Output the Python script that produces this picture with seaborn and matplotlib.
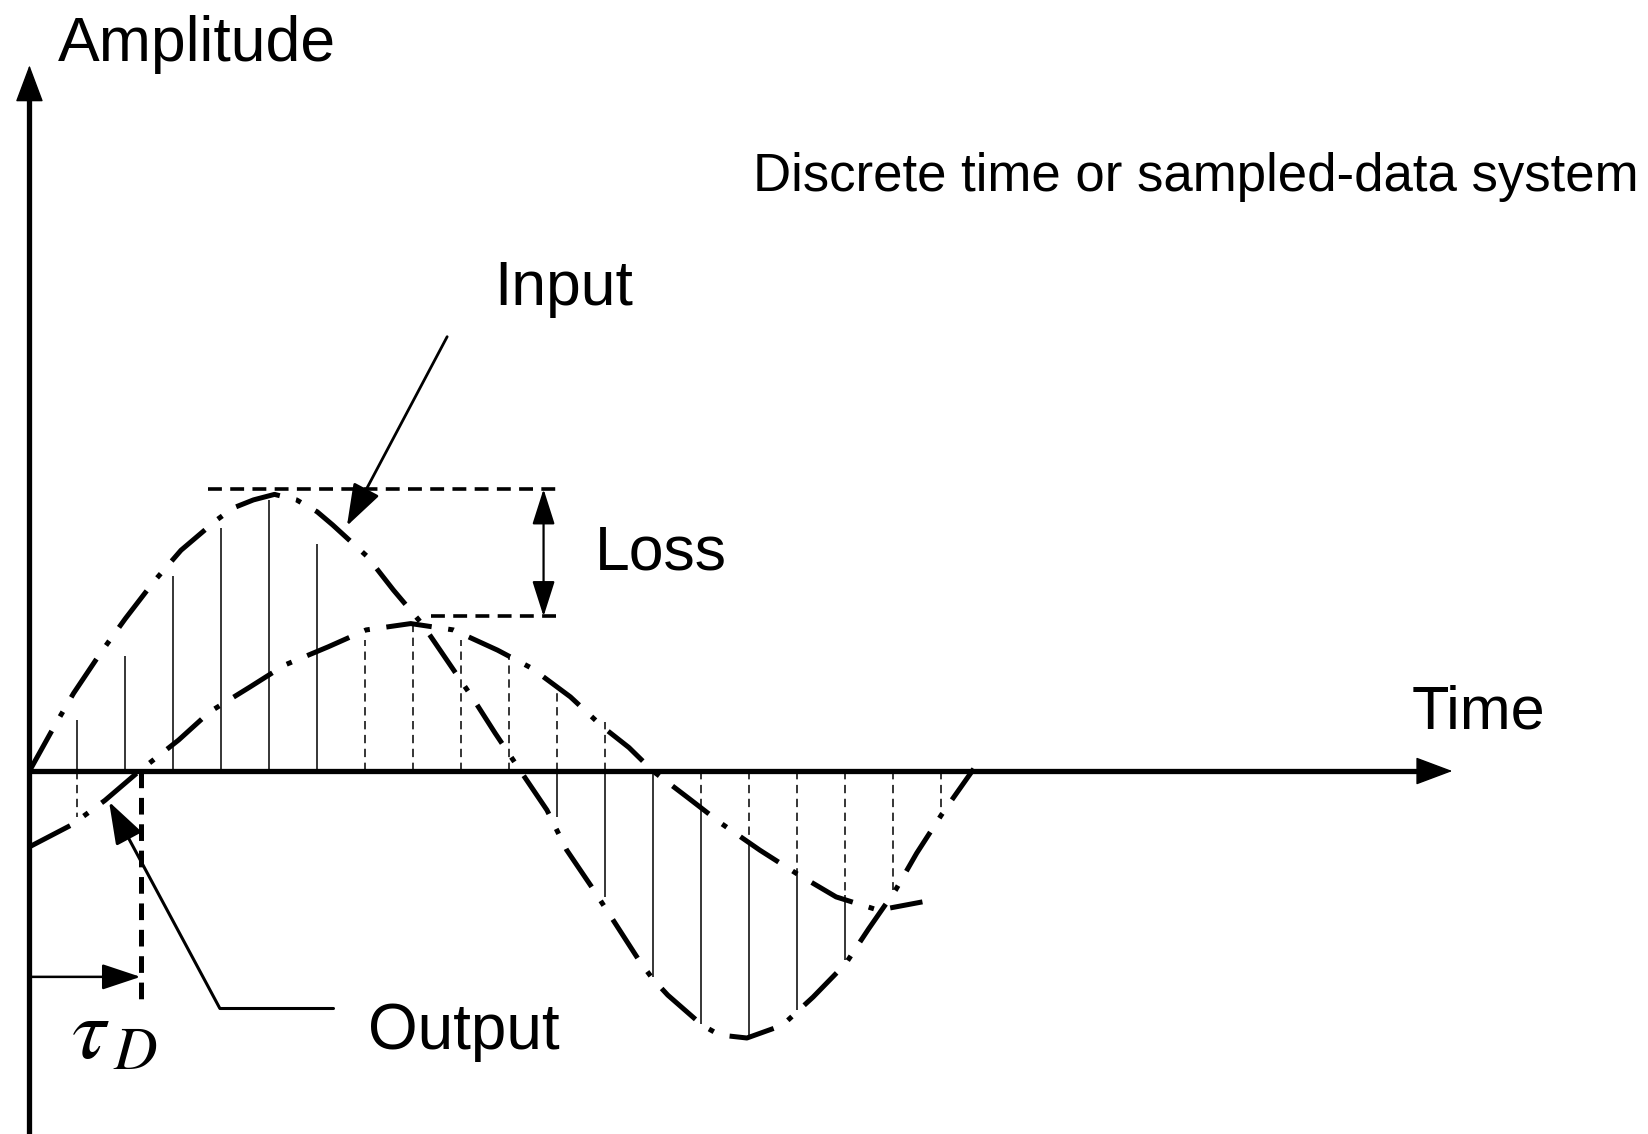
import numpy as np
import pandas as pd
import matplotlib
matplotlib.use("Agg")
import matplotlib.pyplot as plt
import seaborn as sns

# curves: time in sample periods, amplitude relative to input peak
input_t = [0, 0.50, 0.92, 1.48, 2.0, 2.59, 3.16, 3.90, 4.25, 4.67, 5.11, 5.57, 6.0, 6.32, 7.04,
           7.59, 8.20, 8.68, 9.25, 9.71, 10.24, 10.79, 11.2, 11.72, 12.19, 12.71, 12.99, 13.31,
           14.03, 14.39, 14.96, 15.70, 16.34, 17.02, 17.5, 18.06, 18.5, 19.04, 19.69]
input_a = [0, 0.156, 0.281, 0.426, 0.551, 0.684, 0.798, 0.907, 0.951, 0.980, 1.0, 0.980, 0.937,
           0.890, 0.776, 0.654, 0.529, 0.407, 0.262, 0.137, 0, -0.141, -0.285, -0.418, -0.544,
           -0.684, -0.750, -0.810, -0.919, -0.954, -0.965, -0.919, -0.817, -0.696, -0.570,
           -0.430, -0.297, -0.152, 0.008]

output_t = [0, 0.875, 1.20, 1.575, 2.27, 3.11, 3.76, 4.60, 5.32, 6.23, 7.02, 7.95, 8.84, 9.76,
            10.48, 11.28, 11.95, 12.5, 13.0, 13.75, 14.43, 15.23, 15.99, 16.82, 17.70, 18.62]
output_a = [-0.274, -0.195, -0.154, -0.106, -0.003, 0.112, 0.214, 0.304, 0.383, 0.449, 0.510,
            0.533, 0.510, 0.437, 0.371, 0.268, 0.160, 0.085, 0.0, -0.099, -0.190, -0.286,
            -0.370, -0.455, -0.503, -0.473]

# sampled values (stem tips), nan = no stem drawn
sample_k = list(range(1, 20))
input_stem = [0.183, 0.415, 0.705, 0.877, 0.979, 0.819, np.nan, np.nan, np.nan, np.nan,
              -0.165, -0.455, -0.744, -0.913, -0.961, -0.864, -0.684, np.nan, np.nan]
output_stem = [-0.165, np.nan, np.nan, np.nan, np.nan, np.nan, 0.473, 0.533, 0.473, 0.413,
               0.298, 0.178, np.nan, -0.141, -0.262, -0.370, -0.449, -0.431, -0.154]

# loss levels and delay
loss_top = 1.019
loss_bottom = 0.559
delay = 2.316

sns.set_theme(style="white")
plt.rcParams["font.family"] = ["Liberation Sans", "DejaVu Sans"]
plt.rcParams["mathtext.fontset"] = "stix"
plt.rcParams["lines.scale_dashes"] = False
plt.rcParams["text.color"] = "black"

fig = plt.figure(figsize=(16.49, 11.34), dpi=100)
ax = fig.add_axes([0, 0, 1, 1])
ax.set_xlim(-0.614, 33.77)
ax.set_ylim(-1.312, 2.787)
ax.axis("off")

df_in = pd.DataFrame({"t": input_t, "a": input_a})
df_out = pd.DataFrame({"t": output_t, "a": output_a})
dashdot = (0, (33, 12, 4, 12))

sns.lineplot(data=df_in, x="t", y="a", sort=False, estimator=None, color="black", lw=3.6, ax=ax)
ax.lines[-1].set_linestyle(dashdot)
sns.lineplot(data=df_out, x="t", y="a", sort=False, estimator=None, color="black", lw=3.6, ax=ax)
ax.lines[-1].set_linestyle(dashdot)

# stems
k = np.array(sample_k, dtype=float)
s_in = np.array(input_stem)
s_out = np.array(output_stem)
same = np.sign(s_in) == np.sign(s_out)
start = np.where(same, s_out, 0.0)
m = ~np.isnan(s_in)
ax.vlines(k[m], start[m], s_in[m], colors="black", linewidth=1.1)
m = ~np.isnan(s_out)
ax.vlines(k[m], 0, s_out[m], colors="black", linewidth=1.1, linestyles=[(0, (6, 4))])

# axes with arrows
ax.plot([0, 0], [-1.312, 2.45], color="black", lw=3.8, solid_capstyle="butt")
ax.annotate("", xy=(0, 2.551), xytext=(0, 2.40),
            arrowprops=dict(arrowstyle="-|>,head_length=1.2,head_width=0.45", mutation_scale=20,
                            lw=1, color="black", shrinkA=0, shrinkB=0))
ax.plot([0, 29.0], [0, 0], color="black", lw=3.8, solid_capstyle="butt")
ax.annotate("", xy=(29.67, 0), xytext=(28.6, 0),
            arrowprops=dict(arrowstyle="-|>,head_length=1.2,head_width=0.45", mutation_scale=20,
                            lw=1, color="black", shrinkA=0, shrinkB=0))

# loss marker
ax.plot([3.73, 11.07], [loss_top, loss_top], color="black", lw=2.6, ls=(0, (10, 6)))
ax.plot([8.38, 11.07], [loss_bottom, loss_bottom], color="black", lw=2.6, ls=(0, (10, 6)))
ax.annotate("", xy=(10.72, loss_top), xytext=(10.72, loss_bottom),
            arrowprops=dict(arrowstyle="<|-|>,head_length=1.1,head_width=0.35", mutation_scale=20,
                            lw=1.6, color="black", shrinkA=0, shrinkB=0))

# delay marker
ax.plot([delay, delay], [0, -0.858], color="black", lw=3.6, ls=(0, (12, 7)))
ax.annotate("", xy=(delay, -0.744), xytext=(0, -0.744),
            arrowprops=dict(arrowstyle="-|>,head_length=1.2,head_width=0.4", mutation_scale=20,
                            lw=1.8, color="black", shrinkA=0, shrinkB=0))

# pointers
ax.annotate("", xy=(6.62, 0.886), xytext=(8.71, 1.570),
            arrowprops=dict(arrowstyle="-|>,head_length=1.3,head_width=0.45", mutation_scale=20,
                            lw=2.0, color="black", shrinkA=0, shrinkB=0))
ax.plot([6.33, 3.97], [-0.858, -0.858], color="black", lw=2.2)
ax.annotate("", xy=(1.66, -0.111), xytext=(3.97, -0.858),
            arrowprops=dict(arrowstyle="-|>,head_length=1.3,head_width=0.45", mutation_scale=20,
                            lw=2.2, color="black", shrinkA=0, shrinkB=0))

# labels
ax.text(0.59, 2.567, "Amplitude", fontsize=45, ha="left", va="baseline")
ax.text(28.82, 0.152, "Time", fontsize=44, ha="left", va="baseline")
ax.text(15.09, 2.095, "Discrete time or sampled-data system", fontsize=38, ha="left", va="baseline")
ax.text(9.69, 1.684, "Input", fontsize=45, ha="left", va="baseline")
ax.text(11.78, 0.730, "Loss", fontsize=45, ha="left", va="baseline")
ax.text(7.06, -1.004, "Output", fontsize=46, ha="left", va="baseline")
ax.text(0.866, -1.038, r"$\tau_{\,D}$", fontsize=62, ha="left", va="baseline")

fig.savefig("out.png", dpi=100, facecolor="white")
